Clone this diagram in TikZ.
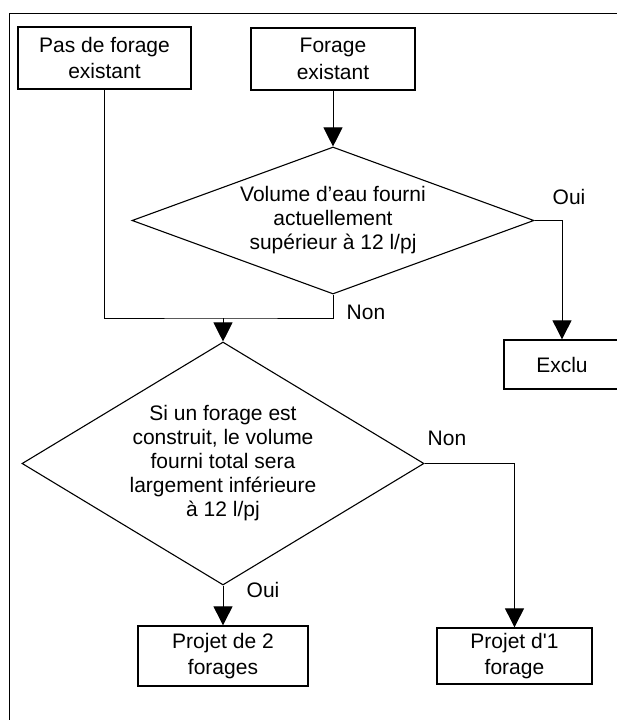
\documentclass[tikz,border=0pt]{standalone}
\usepackage{fontspec}
\setmainfont{Liberation Sans}[Ligatures=TeXOff]
\usetikzlibrary{arrows.meta,shapes.geometric}

\begin{document}
\begin{tikzpicture}[x=1pt,y=-1pt,
  every node/.style={font=\fontsize{21}{26.5}\selectfont,align=center},
  box/.style={draw,line width=1.3pt,rectangle,inner sep=0pt},
  decision/.style={draw,line width=1.1pt,diamond,inner sep=0pt,font=\fontsize{21}{24}\selectfont},
  lnk/.style={line width=0.9pt},
  arr/.style={line width=0.9pt,-{Triangle[length=19pt,width=19pt]}}]
\useasboundingbox (0,0) rectangle (617,720);
% cadre
\draw[lnk] (617,13) -- (9,13) -- (9,720);
% departs
\node[box,minimum width=173pt,minimum height=62pt] (nopre) at (104.5,58) {Pas de forage\\existant};
\node[box,minimum width=164pt,minimum height=62pt] (pre) at (333,59) {Forage\\existant};
% premier test
\node[decision,aspect=2.73,minimum width=402pt,minimum height=147pt] (q1) at (333,220.5) {Volume d’eau fourni\\actuellement\\supérieur à 12 l/pj};
\node[box,minimum width=116pt,minimum height=49pt] (excl) at (562,364.5) {Exclu};
% second test
\node[decision,aspect=1.65,minimum width=402pt,minimum height=243pt] (q2) at (223,463.5) {Si un forage est\\construit, le volume\\fourni total sera\\largement inférieure\\à 12 l/pj};
\node[box,minimum width=170pt,minimum height=60pt] (two) at (223,656) {Projet de 2\\forages};
\node[box,minimum width=155pt,minimum height=56pt] (one) at (514.5,656) {Projet d'1\\forage};
% reponses
\node (oui1) at (569,197) {Oui};
\node (non1) at (366,312) {Non};
\node (non2) at (447,438) {Non};
\node (oui2) at (263,590) {Oui};
% liens
\coordinate (join) at (223,318);
\draw[lnk] (nopre.south) |- (join) -| (q1.south);
\draw[arr] (join) -- (q2.north);
\draw[arr] (pre.south) -- (q1.north);
\draw[arr] (q1.east) -| (excl.north);
\draw[arr] (q2.east) -| (one.north);
\draw[arr] (q2.south) -- (two.north);
\end{tikzpicture}
\end{document}
